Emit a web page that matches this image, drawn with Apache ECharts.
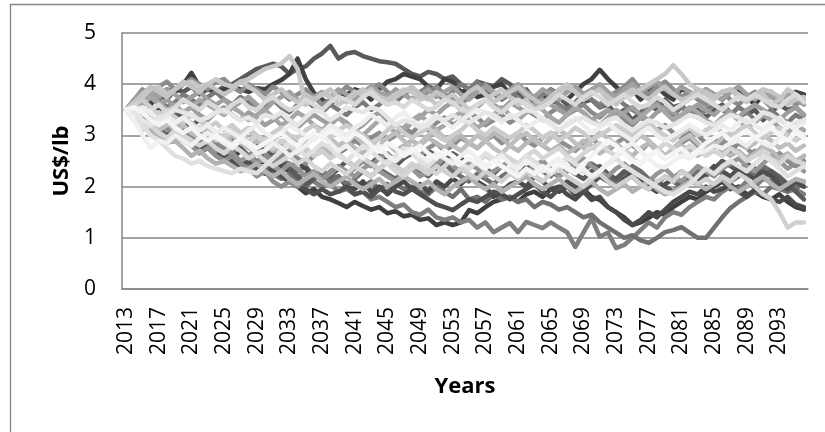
<!DOCTYPE html>
<html>
<head>
<meta charset="utf-8">
<script src="https://cdn.jsdelivr.net/npm/echarts@6/dist/echarts.min.js"></script>
<style>html,body{margin:0;padding:0;background:#fff;}#c{width:825px;height:432px;}</style>
</head>
<body>
<div id="c"></div>
<script>
var years = [];
for (var y = 2013; y <= 2096; y++) years.push(String(y));
var yTicks = [0, 1, 2, 3, 4, 5];
var yTitle = 'US$/lb';
var xTitle = 'Years';

var s01 = [3.5,3.45,3.6,3.7,3.8,3.7,3.9,3.85,3.95,3.8,3.9,3.85, 3.95,4.0,4.1,4.2,4.3,4.35,4.4,4.35,4.2,4.3,4.35,4.5, 4.6,4.75,4.5,4.6,4.63,4.55,4.5,4.45,4.43,4.4,4.3,4.2, 4.15,4.24,4.2,4.1,4.15,4.0,3.9,4.05,4.0,3.95,4.1,4.0, 3.8,3.9,3.7,3.8,3.6,3.75,3.6,3.5,3.65,3.7,3.55,3.6, 3.4,3.5,3.3,3.45,3.6,3.5,3.7,3.55,3.6,3.4,3.5,3.35, 3.5,3.6,3.45,3.3,3.4,3.5,3.3,3.45,3.6,3.5,3.55,3.4];
var s02 = [3.5,3.55,3.7,3.6,3.8,3.9,3.85,4.0,4.22,3.95,3.9,3.85, 3.9,3.95,3.9,3.85,3.92,3.9,4.0,4.08,4.2,4.5,4.1,3.83, 3.7,3.6,3.75,3.8,3.9,3.85,3.7,3.9,4.05,4.1,4.2,4.15, 4.1,3.95,3.9,4.1,4.05,3.85,3.9,3.75,3.8,3.95,4.0,3.8, 3.85,3.7,3.6,3.75,3.9,3.8,3.7,3.85,4.0,4.1,4.28,4.1, 3.95,3.8,3.9,3.7,3.85,3.95,3.8,3.7,3.9,3.85,3.75,3.9, 3.8,3.7,3.85,3.9,3.75,3.6,3.8,3.85,3.7,3.75,3.85,3.8];
var s03 = [3.5,3.4,3.3,3.2,3.1,3.15,3.0,2.9,2.95,2.8,2.85,2.7, 2.6,2.55,2.7,2.6,2.45,2.5,2.3,2.2,2.1,2.0,1.87,1.95, 1.8,1.75,1.68,1.6,1.7,1.62,1.55,1.6,1.48,1.52,1.42,1.45, 1.35,1.38,1.25,1.3,1.25,1.3,1.54,1.48,1.6,1.7,1.75,1.8, 1.7,1.85,1.9,1.8,1.95,1.9,2.0,1.85,1.95,1.8,1.74,1.6, 1.5,1.4,1.25,1.3,1.39,1.5,1.45,1.6,1.7,1.8,1.75,1.9, 2.0,2.1,1.95,2.0,1.85,1.9,1.8,1.75,1.85,1.7,1.6,1.55];
var s04 = [3.5,3.4,3.45,3.3,3.2,3.25,3.1,3.0,3.05,2.9,2.95,2.8, 2.85,2.7,2.75,2.6,2.5,2.55,2.4,2.3,2.35,2.2,2.25,2.1, 2.0,2.05,1.9,1.95,1.85,1.9,1.75,1.8,1.7,1.6,1.65,1.5, 1.45,1.55,1.4,1.35,1.4,1.3,1.35,1.2,1.3,1.11,1.2,1.29, 1.11,1.31,1.25,1.19,1.3,1.2,1.11,0.82,1.1,1.38,1.02,1.1, 0.8,0.86,1.0,1.15,1.3,1.2,1.4,1.5,1.45,1.6,1.7,1.8, 1.75,1.9,2.0,1.95,2.1,2.0,2.15,2.1,2.0,1.9,1.95,1.85];
var s05 = [3.5,3.35,3.3,3.4,3.2,3.1,3.2,3.05,3.0,3.1,2.95,3.0, 2.9,2.8,2.9,2.75,2.8,2.6,2.7,2.5,2.45,2.3,2.4,2.2, 2.3,2.15,2.2,2.05,2.1,2.0,2.1,1.95,1.9,2.05,1.95,2.0, 1.9,1.85,2.0,1.9,1.8,1.95,1.75,1.8,1.7,1.85,1.75,1.8, 1.7,1.75,1.6,1.7,1.65,1.55,1.6,1.5,1.4,1.45,1.3,1.2, 1.1,1.0,1.05,0.95,0.9,1.0,1.11,1.15,1.21,1.1,1.0,1.0, 1.2,1.4,1.58,1.7,1.8,1.9,1.85,2.0,1.95,1.9,2.05,2.0];
var s06 = [3.5,3.6,3.5,3.4,3.5,3.35,3.2,3.3,3.15,3.0,3.1,2.9, 2.8,2.9,2.75,2.6,2.7,2.5,2.55,2.4,2.3,2.5,2.35,2.2, 2.3,2.1,2.2,2.0,1.95,2.1,1.9,2.0,1.85,2.0,2.1,1.95, 2.05,1.9,2.1,2.0,2.15,2.05,2.2,2.1,2.0,1.8,1.9,2.05, 2.1,2.0,2.2,2.1,1.95,2.0,1.85,1.75,1.9,1.74,1.8,1.6, 1.5,1.35,1.25,1.35,1.5,1.4,1.55,1.7,1.8,1.9,1.85,2.0, 1.9,1.95,2.05,1.9,1.8,1.95,1.85,1.75,1.7,1.8,1.65,1.6];
var s07 = [3.5,3.7,3.9,3.8,3.95,4.05,3.9,4.0,4.1,4.0,3.9,4.05, 4.1,3.95,3.85,4.0,3.9,3.8,3.95,3.85,3.7,3.8,3.9,3.75, 3.6,3.7,3.8,3.95,3.85,3.75,3.9,4.0,3.85,3.7,3.8,3.9, 3.75,3.85,3.95,3.8,3.7,3.6,3.75,3.9,4.0,3.85,3.7,3.8, 3.9,3.75,3.65,3.8,3.9,3.7,3.85,3.95,3.8,3.7,3.6,3.75, 3.85,3.95,4.1,3.9,3.8,3.95,4.05,3.9,3.75,3.85,3.7,3.6, 3.75,3.85,3.7,3.6,3.75,3.85,3.7,3.55,3.65,3.75,3.6,3.7];
var s08 = [3.5,3.4,3.6,3.75,3.65,3.5,3.6,3.45,3.55,3.7,3.6,3.5, 3.4,3.55,3.45,3.3,3.4,3.5,3.35,3.2,3.3,3.45,3.35,3.2, 3.1,3.25,3.35,3.2,3.1,3.0,3.15,3.3,3.2,3.05,3.15,3.3, 3.4,3.25,3.1,3.2,3.35,3.45,3.3,3.15,3.25,3.4,3.55,3.4, 3.3,3.45,3.6,3.5,3.35,3.25,3.4,3.55,3.45,3.3,3.2,3.35, 3.5,3.4,3.25,3.35,3.5,3.6,3.45,3.3,3.4,3.55,3.45,3.3, 3.2,3.35,3.45,3.3,3.15,3.25,3.4,3.3,3.15,3.05,3.2,3.1];
var s09 = [3.5,3.3,3.15,3.25,3.1,3.2,3.35,3.2,3.05,3.15,3.0,2.9, 3.0,2.85,2.95,3.1,2.95,2.8,2.9,3.05,2.9,2.75,2.85,3.0, 3.1,2.95,2.8,2.9,3.0,2.85,2.7,2.8,2.95,3.05,2.9,2.75, 2.85,3.0,3.1,2.95,2.8,2.7,2.85,3.0,2.9,2.75,2.65,2.8, 2.95,3.05,2.9,2.8,2.95,3.1,3.0,2.85,2.75,2.9,3.05,2.95, 2.8,2.7,2.85,3.0,2.9,2.75,2.6,2.75,2.9,3.0,2.85,2.7, 2.8,2.95,3.05,2.9,2.75,2.85,3.0,2.9,2.75,2.85,2.7,2.8];
var s10 = [3.5,3.45,3.3,3.4,3.25,3.1,3.2,3.05,2.9,3.0,2.85,2.7, 2.8,2.65,2.5,2.6,2.45,2.55,2.4,2.3,2.45,2.35,2.2,2.3, 2.15,2.25,2.4,2.3,2.2,2.35,2.45,2.3,2.2,2.1,2.25,2.35, 2.2,2.3,2.45,2.55,2.4,2.3,2.45,2.35,2.2,2.3,2.4,2.5, 2.35,2.25,2.4,2.5,2.35,2.2,2.3,2.45,2.55,2.4,2.3,2.2, 2.35,2.45,2.3,2.2,2.1,2.25,2.35,2.2,2.1,2.25,2.4,2.3, 2.2,2.35,2.45,2.55,2.4,2.3,2.45,2.6,2.5,2.35,2.45,2.3];
var s11 = [3.5,3.45,3.3,3.2,3.35,3.4,3.5,3.45,3.4,3.3,3.35,3.45, 3.5,3.4,3.3,3.35,3.25,3.4,3.35,3.45,3.3,3.2,3.35,3.5, 3.45,3.3,3.4,3.55,3.5,3.45,3.55,3.5,3.35,3.2,3.3,3.25, 3.15,3.2,3.35,3.3,3.4,3.3,3.25,3.35,3.45,3.4,3.3,3.35, 3.4,3.5,3.45,3.3,3.25,3.1,3.2,3.3,3.35,3.25,3.2,3.3, 3.35,3.2,3.1,3.2,3.3,3.25,3.15,3.2,3.3,3.4,3.35,3.25, 3.2,3.3,3.4,3.35,3.25,3.3,3.45,3.4,3.3,3.2,3.25,3.3];
var s12 = [3.5,3.3,3.0,2.75,2.9,2.85,3.0,2.9,2.8,2.95,3.05,2.95, 2.85,2.75,2.9,2.8,2.65,2.7,2.85,2.75,2.6,2.7,2.8,2.95, 3.0,2.85,2.7,2.8,2.65,2.55,2.7,2.8,2.6,2.5,2.65,2.75, 2.6,2.5,2.65,2.55,2.45,2.6,2.7,2.55,2.4,2.5,2.6,2.45, 2.35,2.5,2.4,2.3,2.45,2.55,2.4,2.3,2.35,2.2,2.3,2.46, 2.6,2.75,2.85,2.7,2.55,2.4,2.38,2.5,2.6,2.55,2.66,2.7, 2.8,2.75,2.85,2.9,2.8,2.95,2.85,2.78,2.95,3.24,3.1,3.0];
var s13 = [3.5,3.55,3.4,3.5,3.6,3.45,3.55,3.7,3.6,3.5,3.65,3.55, 3.45,3.6,3.7,3.55,3.5,3.65,3.75,3.6,3.5,3.55,3.7,3.6, 3.5,3.65,3.75,3.7,3.6,3.75,3.85,3.7,3.6,3.65,3.55,3.7, 3.6,3.5,3.55,3.7,3.65,3.5,3.45,3.6,3.7,3.55,3.45,3.6, 3.7,3.6,3.5,3.55,3.65,3.8,3.7,3.6,3.75,3.85,3.75,3.6, 3.7,3.8,3.65,3.55,3.6,3.75,3.65,3.5,3.6,3.7,3.8,3.7, 3.6,3.5,3.65,3.75,3.7,3.8,3.7,3.6,3.55,3.7,3.8,3.65];
var s14 = [3.5,3.4,3.25,3.1,3.0,2.85,2.9,2.75,2.6,2.7,2.55,2.45, 2.5,2.4,2.3,2.35,2.45,2.3,2.2,2.3,2.15,2.05,2.15,2.25, 2.1,2.0,2.1,2.2,2.05,1.95,2.05,2.15,2.0,2.1,2.2,2.1, 2.0,2.1,1.95,1.85,2.0,2.1,2.2,2.05,1.95,2.05,1.9,2.0, 2.1,2.2,2.05,1.95,2.05,2.15,2.0,1.9,2.0,2.1,1.95,1.85, 1.95,2.05,1.9,2.0,2.1,1.95,1.85,1.9,2.0,2.1,2.05,1.95, 2.05,2.15,2.0,1.9,2.0,2.1,2.2,2.05,1.95,2.05,2.15,2.1];
var s15 = [3.5,3.6,3.7,3.55,3.4,3.5,3.35,3.25,3.4,3.3,3.15,3.25, 3.1,3.2,3.05,3.15,3.0,2.9,3.05,3.15,3.0,2.95,3.1,3.2, 3.05,2.95,3.1,3.2,3.1,3.0,2.85,2.95,3.1,3.2,3.05,2.95, 3.05,3.15,3.0,2.9,3.0,3.1,3.25,3.1,3.0,3.15,3.05,2.95, 3.05,3.2,3.1,2.95,3.05,2.9,3.0,3.15,3.05,2.9,3.0,3.1, 3.2,3.1,3.0,3.15,3.25,3.1,3.0,2.9,3.05,3.15,3.0,3.1, 3.2,3.05,2.95,3.1,3.2,3.05,2.95,3.05,3.15,3.0,2.9,3.0];
var s16 = [3.5,3.3,3.4,3.2,3.3,3.15,3.0,3.1,2.95,2.85,3.0,2.9, 2.75,2.85,2.7,2.6,2.75,2.65,2.5,2.6,2.7,2.55,2.45,2.6, 2.7,2.8,2.65,2.75,2.9,2.8,2.95,3.05,2.9,3.0,3.15,3.05, 3.2,3.1,3.25,3.35,3.2,3.3,3.45,3.35,3.2,3.3,3.4,3.25, 3.35,3.5,3.4,3.3,3.45,3.55,3.4,3.5,3.6,3.45,3.35,3.5, 3.4,3.3,3.2,3.35,3.25,3.1,3.2,3.05,2.95,3.1,3.0,2.85, 2.95,2.8,2.7,2.85,2.75,2.6,2.7,2.55,2.65,2.5,2.4,2.5];
var s17 = [3.5,3.4,3.5,3.3,3.2,3.05,3.15,3.0,2.85,2.95,2.8,2.7, 2.55,2.65,2.5,2.4,2.3,2.4,2.25,2.15,2.25,2.1,2.0,2.15, 2.25,2.1,2.2,2.05,2.15,2.3,2.2,2.35,2.25,2.15,2.3,2.4, 2.3,2.2,2.35,2.45,2.3,2.2,2.1,2.25,2.15,2.05,2.2,2.3, 2.2,2.35,2.45,2.3,2.2,2.4,2.55,2.4,2.3,2.45,2.35,2.2, 2.1,2.25,2.4,2.3,2.15,2.05,2.2,2.1,2.0,2.15,2.3,2.2, 2.35,2.25,2.1,2.2,2.35,2.25,2.4,2.3,2.2,2.05,1.95,2.1];
var s18 = [3.5,3.65,3.8,3.95,3.85,3.75,3.9,4.05,3.95,3.85,4.0,3.9, 3.8,3.9,4.05,3.95,3.85,3.7,3.8,3.9,3.75,3.65,3.8,3.7, 3.8,3.9,3.75,3.65,3.8,3.9,3.8,3.7,3.6,3.75,3.85,3.95, 3.8,3.7,3.85,3.75,3.6,3.7,3.85,3.95,3.8,3.65,3.75,3.85, 3.95,3.8,3.7,3.6,3.75,3.85,3.95,3.85,3.7,3.8,3.9,3.75, 3.65,3.8,3.9,3.8,3.7,3.85,3.95,3.8,3.7,3.75,3.9,3.85, 3.75,3.85,3.9,3.75,3.65,3.8,3.9,3.85,3.75,3.6,3.7,3.75];
var s19 = [3.5,3.4,3.2,3.0,2.9,2.75,2.6,2.55,2.45,2.5,2.4,2.35, 2.3,2.26,2.35,2.3,2.26,2.4,2.55,2.7,2.85,2.75,2.6,2.7, 2.85,2.75,2.6,2.5,2.65,2.8,2.7,2.55,2.45,2.6,2.75,2.65, 2.5,2.4,2.55,2.7,2.6,2.45,2.35,2.5,2.65,2.55,2.4,2.3, 2.45,2.6,2.5,2.35,2.25,2.4,2.55,2.45,2.3,2.2,2.3,2.45, 2.55,2.4,2.3,2.2,2.1,2.0,1.9,1.85,1.95,2.05,2.2,2.35, 2.25,2.4,2.5,2.4,2.3,2.45,2.6,2.5,2.35,2.2,2.3,2.4];
var s20 = [3.5,3.6,3.5,3.35,3.45,3.3,3.2,3.35,3.25,3.1,3.2,3.05, 2.95,3.1,3.0,2.9,3.0,2.85,2.75,2.9,2.8,2.65,2.75,2.6, 2.7,2.55,2.65,2.5,2.4,2.55,2.45,2.35,2.5,2.4,2.3,2.45, 2.35,2.25,2.4,2.3,2.2,2.35,2.25,2.15,2.3,2.2,2.1,2.25, 2.15,2.3,2.2,2.1,2.25,2.35,2.2,2.1,2.0,2.15,2.25,2.1, 2.0,2.1,2.2,2.05,1.95,2.1,2.2,2.1,2.3,2.2,2.05,2.15, 2.05,2.2,2.1,2.25,2.15,2.0,1.85,1.75,1.5,1.2,1.3,1.3];
var s21 = [3.5,3.7,3.6,3.8,3.7,3.55,3.65,3.8,3.7,3.6,3.75,3.85, 3.7,3.6,3.75,3.65,3.5,3.6,3.7,3.55,3.45,3.6,3.7,3.55, 3.45,3.6,3.5,3.4,3.55,3.65,3.5,3.6,3.75,3.65,3.8,3.7, 3.85,3.95,3.8,3.7,3.85,4.0,3.9,4.05,3.9,3.8,3.7,3.85, 3.75,3.6,3.7,3.85,3.75,3.6,3.5,3.65,3.8,3.7,3.55,3.65, 3.75,3.6,3.5,3.4,3.55,3.65,3.5,3.4,3.55,3.45,3.35,3.5, 3.6,3.5,3.4,3.55,3.45,3.3,3.4,3.5,3.35,3.25,3.4,3.3];
var s22 = [3.5,3.35,3.45,3.3,3.15,3.25,3.1,3.2,3.05,2.95,3.1,3.0, 2.9,3.0,2.85,2.75,2.9,2.8,2.7,2.8,2.95,2.85,2.7,2.6, 2.75,2.65,2.8,2.9,2.75,2.65,2.8,2.95,2.85,2.7,2.8,2.9, 2.8,2.95,2.85,2.75,2.9,3.0,2.85,2.75,2.9,3.05,2.95,2.8, 2.7,2.85,2.95,2.8,2.7,2.8,2.65,2.75,2.9,2.8,2.65,2.75, 2.85,2.7,2.6,2.75,2.85,2.7,2.55,2.65,2.8,2.7,2.6,2.75, 2.85,2.7,2.6,2.7,2.55,2.65,2.8,2.7,2.55,2.65,2.5,2.6];
var s23 = [3.5,3.6,3.45,3.55,3.4,3.3,3.45,3.35,3.2,3.3,3.15,3.05, 2.95,3.05,2.9,2.8,2.65,2.75,2.6,2.5,2.35,2.2,2.05,2.15, 2.3,2.2,2.35,2.5,2.4,2.55,2.45,2.6,2.5,2.4,2.55,2.65, 2.55,2.7,2.6,2.5,2.65,2.55,2.4,2.5,2.35,2.25,2.4,2.3, 2.45,2.35,2.25,2.4,2.3,2.2,2.35,2.25,2.15,2.3,2.4,2.25, 2.15,2.3,2.2,2.05,1.95,2.1,2.0,1.9,2.05,2.2,2.1,2.25, 2.35,2.5,2.4,2.3,2.45,2.35,2.2,2.3,2.15,2.05,1.9,1.75];
var s24 = [3.5,3.4,3.55,3.45,3.3,3.4,3.25,3.35,3.2,3.1,3.2,3.05, 3.15,3.05,2.95,3.1,3.2,3.05,2.95,3.05,3.2,3.1,3.0,2.9, 3.05,3.2,3.1,3.0,3.15,3.25,3.4,3.3,3.2,3.35,3.45,3.3, 3.2,3.3,3.4,3.25,3.15,3.3,3.4,3.5,3.45,3.35,3.25,3.4, 3.3,3.15,3.25,3.35,3.2,3.1,3.25,3.35,3.2,3.05,3.15,3.25, 3.1,3.0,2.9,3.05,3.15,3.0,2.9,3.0,3.1,3.2,3.1,3.0, 3.1,3.2,3.1,3.25,3.35,3.2,3.1,3.25,3.35,3.2,3.15,3.25];
var s25 = [3.5,3.7,3.85,3.75,3.6,3.7,3.55,3.45,3.55,3.4,3.3,3.45, 3.55,3.4,3.3,3.45,3.35,3.2,3.3,3.4,3.25,3.15,3.3,3.4, 3.3,3.2,3.35,3.25,3.1,3.2,3.35,3.45,3.3,3.2,3.1,3.25, 3.35,3.5,3.4,3.55,3.65,3.5,3.4,3.55,3.7,3.6,3.5,3.65, 3.55,3.45,3.6,3.7,3.6,3.5,3.4,3.55,3.45,3.3,3.4,3.5, 3.35,3.45,3.55,3.4,3.3,3.45,3.55,3.45,3.35,3.5,3.6,3.5, 3.4,3.55,3.45,3.35,3.5,3.6,3.5,3.4,3.3,3.45,3.55,3.4];
var s26 = [3.5,3.3,3.1,3.2,3.05,2.95,3.1,3.0,2.9,2.8,2.9,2.75, 2.65,2.8,2.7,2.55,2.65,2.5,2.4,2.5,2.6,2.45,2.55,2.4, 2.3,2.45,2.35,2.25,2.4,2.3,2.2,2.35,2.45,2.3,2.2,2.35, 2.45,2.35,2.25,2.4,2.55,2.45,2.35,2.5,2.6,2.5,2.65,2.55, 2.45,2.6,2.7,2.55,2.65,2.75,2.6,2.5,2.65,2.75,2.85,2.7, 2.6,2.7,2.55,2.45,2.6,2.7,2.85,2.75,2.65,2.8,2.7,2.6, 2.7,2.6,2.75,2.65,2.5,2.6,2.7,2.55,2.45,2.6,2.5,2.45];
var s27 = [3.5,3.45,3.3,3.35,3.2,3.05,3.15,3.0,2.85,2.75,2.85,2.7, 2.6,2.5,2.4,2.5,2.35,2.25,2.35,2.2,2.1,2.0,1.95,1.85, 1.95,1.85,1.9,2.0,1.85,1.9,1.8,1.95,2.05,1.9,1.85,1.95, 1.85,1.75,1.65,1.6,1.54,1.65,1.75,1.7,1.8,1.9,1.85,1.75, 1.85,1.95,2.05,1.9,1.8,1.95,2.1,2.0,1.9,2.05,2.2,2.1, 2.0,2.15,2.25,2.1,2.0,1.9,2.05,2.15,2.3,2.2,2.1,2.25, 2.4,2.3,2.2,2.35,2.25,2.15,2.3,2.2,2.05,1.95,2.1,2.0];
var s28 = [3.5,3.55,3.7,3.85,3.75,3.9,3.8,3.65,3.75,3.85,3.7,3.6, 3.7,3.55,3.65,3.75,3.6,3.5,3.65,3.75,3.85,3.7,3.6,3.75, 3.85,3.75,3.9,3.8,3.7,3.85,3.95,3.85,3.75,3.9,3.8,3.7, 3.8,3.9,3.75,3.85,3.95,3.8,3.7,3.85,3.95,3.85,3.75,3.9, 4.0,3.85,3.75,3.9,3.8,3.7,3.85,3.95,3.8,3.9,4.0,3.85, 3.75,3.9,4.0,3.85,3.95,4.05,3.9,3.8,3.95,3.85,3.75,3.9, 3.8,3.7,3.85,3.95,3.8,3.7,3.85,3.75,3.65,3.8,3.7,3.6];
var s29 = [3.5,3.55,3.45,3.3,3.2,3.3,3.15,3.05,3.15,3.0,2.9,3.0, 2.9,2.8,2.95,2.85,2.75,2.85,2.95,3.05,2.9,2.8,2.95,3.05, 2.95,3.1,3.0,2.9,3.05,2.95,2.8,2.7,2.85,2.75,2.6,2.7, 2.8,2.65,2.55,2.7,2.6,2.45,2.55,2.45,2.35,2.5,2.4,2.3, 2.2,2.35,2.25,2.4,2.3,2.45,2.35,2.26,2.45,2.6,2.75,2.9, 2.8,2.65,2.5,2.46,2.6,2.7,2.55,2.65,2.75,2.6,2.7,2.85, 2.95,3.05,2.9,3.0,3.1,2.95,3.05,3.15,3.0,2.9,3.05,2.95];
var s30 = [3.5,3.35,3.2,3.3,3.1,2.95,3.05,2.9,2.8,2.65,2.75,2.6, 2.5,2.6,2.45,2.35,2.2,2.3,2.1,2.0,2.1,2.0,2.15,2.25, 2.15,2.3,2.4,2.25,2.35,2.5,2.4,2.55,2.65,2.5,2.6,2.7, 2.6,2.75,2.85,2.7,2.8,2.95,2.85,2.75,2.9,3.0,2.85,2.95, 3.05,2.9,2.8,2.95,3.05,2.9,2.8,2.7,2.85,2.95,2.8,2.7, 2.85,2.95,2.8,2.7,2.85,2.75,2.6,2.7,2.85,2.95,2.8,2.65, 2.75,2.9,2.8,2.65,2.55,2.7,2.6,2.5,2.65,2.55,2.45,2.6];
var s31 = [3.5,3.6,3.75,3.9,3.95,3.8,3.9,4.0,4.05,3.95,4.0,4.1, 4.0,3.95,4.05,4.1,4.2,4.3,4.35,4.4,4.55,4.3,3.6,3.7, 3.8,3.75,3.6,3.7,3.85,3.8,3.9,3.75,3.7,3.8,3.9,3.85, 3.7,3.75,3.6,3.7,3.8,3.65,3.5,3.6,3.7,3.8,3.9,3.75, 3.6,3.7,3.5,3.6,3.75,3.9,4.0,3.85,3.7,3.8,3.9,3.7, 3.6,3.75,3.8,3.9,4.0,4.1,4.2,4.37,4.2,4.0,3.9,3.8, 3.7,3.85,3.9,3.8,3.7,3.75,3.8,3.6,3.7,3.9,3.8,3.7];

var seriesValues = [s03,s04,s05,s06,s01,s02,s17,s23,s27,s07,s21,s10,s16,s30,s25,s28,s08,s22,s14,s09,s31,s18,s15,s26,s20,s13,s19,s24,s11,s12,s29];
var seriesColors = ['#3f3f3f','#7f7f7f','#707070','#4a4a4a','#595959','#404040','#6e6e6e','#5a5a5a','#4f4f4f','#8c8c8c','#7a7a7a','#969696','#8a8a8a','#8f8f8f','#9e9e9e','#a0a0a0','#a6a6a6','#b8b8b8','#b2b2b2','#bfbfbf','#c8c8c8','#c4c4c4','#cccccc','#d5d5d5','#d0d0d0','#d9d9d9','#e0e0e0','#eeeeee','#e6e6e6','#f0f0f0','#f5f5f5'];

var FONT = '"Open Sans", "Liberation Sans", sans-serif';
var series = seriesValues.map(function (vals, i) {
  return {
    type: 'line', data: vals, showSymbol: false, symbol: 'none', smooth: false,
    lineStyle: { width: 4.5, color: seriesColors[i], join: 'round', cap: 'round' },
    emphasis: { disabled: true }, silent: true, animation: false
  };
});

var chart = echarts.init(document.getElementById('c'), null, { renderer: 'canvas' });
chart.setOption({
  animation: false,
  backgroundColor: '#ffffff',
  graphic: [{
    type: 'rect', shape: { x: 10.5, y: 4.5, width: 840, height: 450 },
    style: { fill: 'none', stroke: '#868686', lineWidth: 1.3 }, silent: true, z: -1
  }],
  grid: { left: 122, top: 33, right: 17, bottom: 143, containLabel: false },
  xAxis: {
    type: 'category', data: years, boundaryGap: true,
    axisLine: { show: true, lineStyle: { color: '#868686', width: 1.5 } },
    axisTick: { show: false },
    axisLabel: { interval: 3, rotate: 90, margin: 18, color: '#000', fontSize: 21, fontFamily: FONT },
    name: xTitle, nameLocation: 'middle', nameGap: 87,
    nameTextStyle: { color: '#000', fontSize: 22, fontWeight: 'bold', fontFamily: FONT },
    splitLine: { show: false }
  },
  yAxis: {
    type: 'value', min: yTicks[0], max: yTicks[yTicks.length - 1], interval: 1,
    axisLine: { show: true, lineStyle: { color: '#868686', width: 1.5 } },
    axisTick: { show: false },
    axisLabel: { margin: 26, color: '#000', fontSize: 21, fontFamily: FONT },
    splitLine: { show: true, lineStyle: { color: '#868686', width: 1.5 } },
    name: yTitle, nameLocation: 'middle', nameGap: 46, nameRotate: 90,
    nameTextStyle: { color: '#000', fontSize: 22, fontWeight: 'bold', fontFamily: FONT }
  },
  series: series
});
</script>
</body>
</html>
